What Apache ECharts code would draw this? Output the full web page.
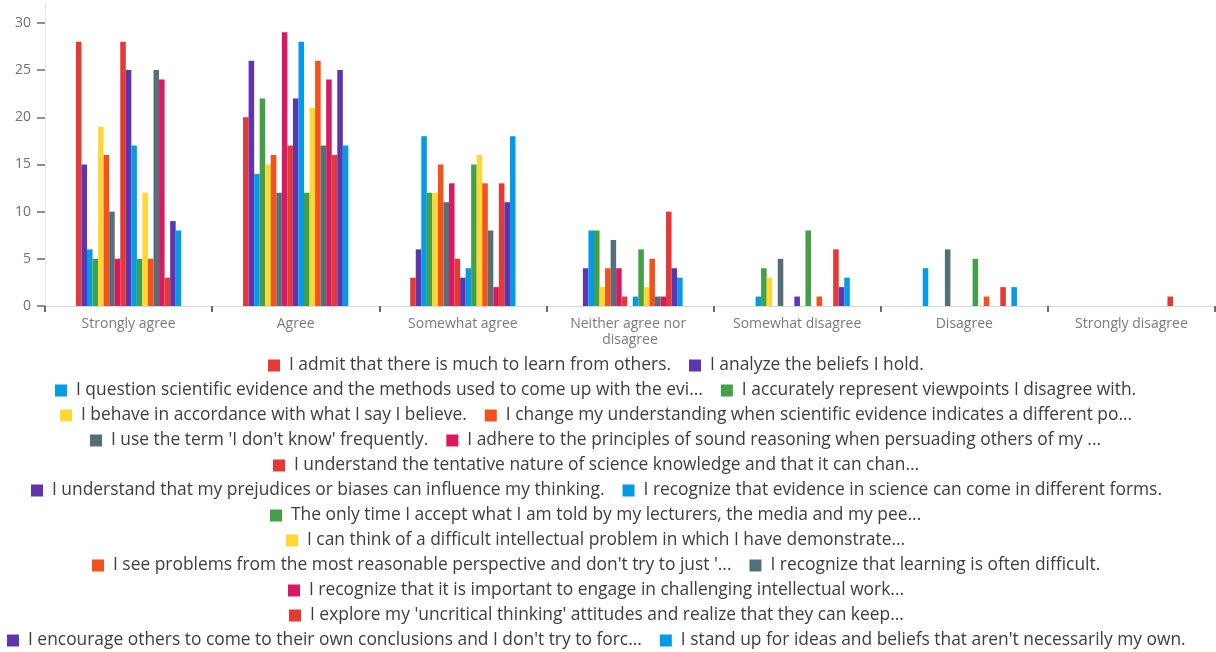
<!DOCTYPE html>
<html>
<head>
<meta charset="utf-8">
<script src="https://cdn.jsdelivr.net/npm/echarts@6/dist/echarts.min.js"></script>
<style>
  html, body { margin: 0; padding: 0; background: #ffffff; }
  #chart { width: 1216px; height: 652px; }
</style>
</head>
<body>
<div id="chart"></div>
<script>
// Response categories on the x axis
const categories = [
  'Strongly agree', 'Agree', 'Somewhat agree', 'Neither agree nor disagree',
  'Somewhat disagree', 'Disagree', 'Strongly disagree'
];

// Survey statements (series names, in legend order)
const statements = [
  'I admit that there is much to learn from others.',
  'I analyze the beliefs I hold.',
  'I question scientific evidence and the methods used to come up with the evi...',
  'I accurately represent viewpoints I disagree with.',
  'I behave in accordance with what I say I believe.',
  'I change my understanding when scientific evidence indicates a different po...',
  "I use the term 'I don't know' frequently.",
  'I adhere to the principles of sound reasoning when persuading others of my ...',
  'I understand the tentative nature of science knowledge and that it can chan...',
  'I understand that my prejudices or biases can influence my thinking.',
  'I recognize that evidence in science can come in different forms.',
  'The only time I accept what I am told by my lecturers, the media and my pee...',
  'I can think of a difficult intellectual problem in which I have demonstrate...',
  "I see problems from the most reasonable perspective and don't try to just '...",
  'I recognize that learning is often difficult.',
  'I recognize that it is important to engage in challenging intellectual work...',
  "I explore my 'uncritical thinking' attitudes and realize that they can keep...",
  "I encourage others to come to their own conclusions and I don't try to forc...",
  "I stand up for ideas and beliefs that aren't necessarily my own."
];

// Response counts per statement, one value per category
const admitLearn      = [28, 20,  3,  0, 0, 0, 0];
const analyzeBeliefs  = [15, 26,  6,  4, 0, 0, 0];
const questionEvid    = [ 6, 14, 18,  8, 1, 4, 0];
const representViews  = [ 5, 22, 12,  8, 4, 0, 0];
const behaveBelieve   = [19, 15, 12,  2, 3, 0, 0];
const changeUnderst   = [16, 16, 15,  4, 0, 0, 0];
const dontKnow        = [10, 12, 11,  7, 5, 6, 0];
const soundReasoning  = [ 5, 29, 13,  4, 0, 0, 0];
const tentativeNature = [28, 17,  5,  1, 0, 0, 0];
const prejudices      = [25, 22,  3,  0, 1, 0, 0];
const evidenceForms   = [17, 28,  4,  1, 0, 0, 0];
const onlyTimeAccept  = [ 5, 12, 15,  6, 8, 5, 0];
const difficultProb   = [12, 21, 16,  2, 0, 0, 0];
const reasonablePersp = [ 5, 26, 13,  5, 1, 1, 0];
const learningHard    = [25, 17,  8,  1, 0, 0, 0];
const challengingWork = [24, 24,  2,  1, 0, 0, 0];
const uncritical      = [ 3, 16, 13, 10, 6, 2, 1];
const encourageOthers = [ 9, 25, 11,  4, 2, 0, 0];
const standUpIdeas    = [ 8, 17, 18,  3, 3, 2, 0];

const seriesValues = [
  admitLearn, analyzeBeliefs, questionEvid, representViews, behaveBelieve,
  changeUnderst, dontKnow, soundReasoning, tentativeNature, prejudices,
  evidenceForms, onlyTimeAccept, difficultProb, reasonablePersp, learningHard,
  challengingWork, uncritical, encourageOthers, standUpIdeas
];

// Y axis tick labels
const yTicks = [0, 5, 10, 15, 20, 25, 30];

const palette = ['#e53935', '#5e35b1', '#039be5', '#43a047', '#fdd835', '#f4511e', '#546e7a', '#d81b60'];

const FONT_FAMILY = '"Open Sans", "Noto Sans", sans-serif';
const LEGEND_FONT_SIZE = 17.4;
const ICON = 12, TEXT_PAD = 4, ITEM_GAP = 18, ROW_MAX = 1205;
const LEGEND_CENTER_X = 596;

// Wrap legend entries into centred rows, measuring each entry's text
const measureCtx = document.createElement('canvas').getContext('2d');
measureCtx.font = LEGEND_FONT_SIZE + 'px ' + FONT_FAMILY;
function entryWidth(name) {
  return ICON + 5 + TEXT_PAD + measureCtx.measureText(name).width;
}
const legendRows = [];
let row = [], rowW = 0;
statements.forEach(name => {
  const w = entryWidth(name);
  const next = row.length ? rowW + ITEM_GAP + w : w;
  if (row.length && next > ROW_MAX) {
    legendRows.push({ names: row, width: rowW });
    row = [name];
    rowW = w;
  } else {
    row.push(name);
    rowW = next;
  }
});
if (row.length) legendRows.push({ names: row, width: rowW });

const legends = legendRows.map((r, i) => ({
  data: r.names,
  left: Math.round(LEGEND_CENTER_X - r.width / 2),
  top: 357 + i * 25,
  orient: 'horizontal',
  padding: 0,
  itemWidth: ICON,
  itemHeight: ICON,
  itemGap: ITEM_GAP,
  icon: 'rect',
  textStyle: {
    fontFamily: FONT_FAMILY,
    fontSize: LEGEND_FONT_SIZE,
    color: '#3d3d3d',
    padding: [0, 0, 0, TEXT_PAD]
  }
}));

const chart = echarts.init(document.getElementById('chart'), null, { renderer: 'canvas' });

chart.setOption({
  animation: false,
  color: palette,
  textStyle: { fontFamily: FONT_FAMILY },
  legend: legends,
  grid: { left: 45, right: 1, top: 4, bottom: 346, containLabel: false },
  xAxis: {
    type: 'category',
    data: categories,
    axisLine: { show: true, lineStyle: { color: '#d9d9d9', width: 1 } },
    axisTick: { show: true, length: 6, lineStyle: { color: '#6b6b6b', width: 2 } },
    axisLabel: {
      color: '#7a7a7a',
      fontSize: 14,
      fontFamily: FONT_FAMILY,
      margin: 10,
      lineHeight: 16,
      width: 150,
      overflow: 'break',
      interval: 0
    }
  },
  yAxis: {
    type: 'value',
    min: 0,
    max: 32,
    axisLine: { show: true, lineStyle: { color: '#e6e6e6', width: 1 } },
    axisTick: { show: true, length: 8, customValues: yTicks, lineStyle: { color: '#6b6b6b', width: 1.5 } },
    axisLabel: { color: '#707070', fontSize: 14, fontFamily: FONT_FAMILY, margin: 14, customValues: yTicks },
    splitLine: { show: false }
  },
  series: statements.map((name, i) => ({
    name: name,
    type: 'bar',
    data: seriesValues[i],
    barGap: '0%',
    barCategoryGap: '37%',
    itemStyle: { color: palette[i % palette.length] }
  }))
});
</script>
</body>
</html>
